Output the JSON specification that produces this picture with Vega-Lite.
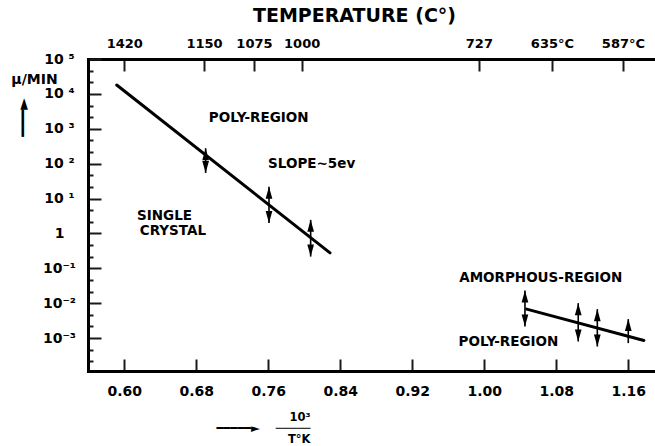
{
  "$schema": "https://vega.github.io/schema/vega-lite/v6.json",
  "width": 567,
  "height": 312,
  "autosize": {"type": "none"},
  "padding": {"left": 88, "top": 59, "right": 0, "bottom": 75},
  "background": "white",
  "config": {
    "view": {"stroke": null},
    "font": "DejaVu Sans",
    "axis": {
      "labelFont": "DejaVu Sans", "titleFont": "DejaVu Sans",
      "labelColor": "black", "titleColor": "black",
      "tickColor": "#1a1a1a", "tickOpacity": 1, "domainColor": "black", "grid": false,
      "labelFontWeight": "bold", "titleFontWeight": "bold"
    }
  },
  "datasets": {
    "lines": [
      {"phase": "crystal/poly", "inv_t": 0.5916, "rate": 17990},
      {"phase": "crystal/poly", "inv_t": 0.8286, "rate": 0.276},
      {"phase": "amorphous/poly", "inv_t": 1.0471, "rate": 0.00673},
      {"phase": "amorphous/poly", "inv_t": 1.1774, "rate": 0.000851}
    ],
    "bars": [
      {"inv_t": 0.6904, "lo": 54.1, "hi": 276, "bound": "both"},
      {"inv_t": 0.7608, "lo": 2.0, "hi": 21.9, "bound": "both"},
      {"inv_t": 0.8071, "lo": 0.216, "hi": 2.44, "bound": "both"},
      {"inv_t": 1.0452, "lo": 0.00214, "hi": 0.0230, "bound": "both"},
      {"inv_t": 1.1044, "lo": 0.000794, "hi": 0.0100, "bound": "both"},
      {"inv_t": 1.1256, "lo": 0.00057, "hi": 0.00673, "bound": "both"},
      {"inv_t": 1.16, "lo": 0.000714, "hi": 0.00348, "bound": "lower"}
    ],
    "notes": [
      {"label": "POLY-REGION", "inv_t": 0.7493, "rate": 2080},
      {"label": "SLOPE∼5ev", "inv_t": 0.8082, "rate": 99},
      {"label": "SINGLE", "inv_t": 0.6447, "rate": 3.1},
      {"label": "CRYSTAL", "inv_t": 0.654, "rate": 1.15},
      {"label": "AMORPHOUS-REGION", "inv_t": 1.0628, "rate": 0.052},
      {"label": "POLY-REGION", "inv_t": 1.0268, "rate": 0.00079}
    ]
  },
  "resolve": {"axis": {"x": "independent", "y": "independent"}},
  "layer": [
    {
      "data": {"name": "lines"},
      "mark": {"type": "line", "color": "black", "strokeWidth": 3, "strokeCap": "round"},
      "encoding": {
        "x": {
          "field": "inv_t", "type": "quantitative",
          "scale": {"domain": [0.5597, 1.1897], "nice": false, "zero": false},
          "axis": {
            "orient": "bottom",
            "values": [0.6, 0.68, 0.76, 0.84, 0.92, 1.0, 1.08, 1.16],
            "format": ".2f",
            "labelFontSize": 14, "labelPadding": 25, "labelFlush": false,
            "tickSize": -12, "tickWidth": 2,
            "domainWidth": 3, "domainCap": "square",
            "title": ["10³", "━━━━━►\u00a0\u00a0\u00a0\u00a0─────", "T°K"],
            "titleFontSize": 11.5, "titleLineHeight": 11,
            "titleAlign": "right", "titleBaseline": "alphabetic",
            "titleX": 222, "titleY": 49
          }
        },
        "y": {
          "field": "rate", "type": "quantitative",
          "scale": {"type": "log", "domain": [0.0001132, 100000], "nice": false},
          "axis": {
            "orient": "left",
            "values": [0.000215443, 0.000464159, 0.001, 0.00215443, 0.00464159, 0.01, 0.0215443, 0.0464159, 0.1, 0.215443, 0.464159, 1, 2.15443, 4.64159, 10, 21.5443, 46.4159, 100, 215.443, 464.159, 1000, 2154.43, 4641.59, 10000, 21544.3, 46415.9, 100000],
            "labelExpr": "abs(log(datum.value)/LN10 - round(log(datum.value)/LN10)) > 0.05 ? '' : round(log(datum.value)/LN10) == 0 ? '1' : round(log(datum.value)/LN10) < 0 ? '10⁻' + ['⁰','¹','²','³','⁴','⁵'][-round(log(datum.value)/LN10)] : '10 ' + ['⁰','¹','²','³','⁴','⁵'][round(log(datum.value)/LN10)]",
            "labelAlign": "center", "labelBaseline": "middle",
            "labelFontSize": 14, "labelPadding": 42,
            "labelOverlap": false, "labelFlush": false,
            "tickSize": {"condition": {"test": "abs(log(datum.value)/LN10 - round(log(datum.value)/LN10)) < 0.05", "value": -13}, "value": -5},
            "tickWidth": 2,
            "domainWidth": 3, "domainCap": "square",
            "title": "μ/MIN", "titleAngle": 0, "titleFontSize": 14,
            "titleX": -54, "titleY": 20.5, "titleAlign": "center", "titleBaseline": "middle"
          }
        },
        "detail": {"field": "phase"}
      }
    },
    {
      "data": {"name": "bars"},
      "mark": {"type": "rule", "color": "black", "strokeWidth": 1.6},
      "encoding": {
        "x": {
          "field": "inv_t", "type": "quantitative",
          "axis": {
            "orient": "top",
            "values": [0.6, 0.6886, 0.7441, 0.7971, 0.994, 1.0752, 1.1541],
            "labelExpr": "datum.value < 0.65 ? '1420' : datum.value < 0.72 ? '1150' : datum.value < 0.77 ? '1075' : datum.value < 0.9 ? '1000' : datum.value < 1.03 ? '727' : datum.value < 1.11 ? '635°C' : '587°C'",
            "labelFontSize": 13, "labelPadding": 21, "labelFlush": false, "labelOverlap": false,
            "tickSize": -12, "tickWidth": 2,
            "domainWidth": 3, "domainCap": "square",
            "title": "TEMPERATURE (C°)", "titleFontSize": 19,
            "titleX": 266, "titleY": -37.3, "titleAlign": "center", "titleBaseline": "alphabetic"
          }
        },
        "y": {
          "field": "lo", "type": "quantitative",
          "axis": {
            "orient": "left", "domain": false, "ticks": false, "labels": false,
            "title": "━━━►", "titleAngle": 270, "titleFontSize": 15,
            "titleX": -66, "titleY": 58, "titleAlign": "center", "titleBaseline": "middle"
          }
        },
        "y2": {"field": "hi"}
      }
    },
    {
      "data": {"name": "bars"},
      "mark": {"type": "point", "shape": "M0,0L-0.28,1L0.28,1Z", "filled": true, "size": 576, "color": "black", "opacity": 1, "strokeWidth": 0},
      "encoding": {
        "x": {"field": "inv_t", "type": "quantitative", "axis": null},
        "y": {"field": "hi", "type": "quantitative", "axis": null}
      }
    },
    {
      "data": {"name": "bars"},
      "transform": [{"filter": "datum.bound == 'both'"}],
      "mark": {"type": "point", "shape": "M0,0L-0.28,-1L0.28,-1Z", "filled": true, "size": 576, "color": "black", "opacity": 1, "strokeWidth": 0},
      "encoding": {
        "x": {"field": "inv_t", "type": "quantitative", "axis": null},
        "y": {"field": "lo", "type": "quantitative", "axis": null}
      }
    },
    {
      "data": {"name": "notes"},
      "mark": {"type": "text", "font": "DejaVu Sans", "fontWeight": "bold", "fontSize": 13.5, "color": "black", "align": "center", "baseline": "middle"},
      "encoding": {
        "x": {"field": "inv_t", "type": "quantitative", "axis": null},
        "y": {"field": "rate", "type": "quantitative", "axis": null},
        "text": {"field": "label"}
      }
    }
  ]
}
